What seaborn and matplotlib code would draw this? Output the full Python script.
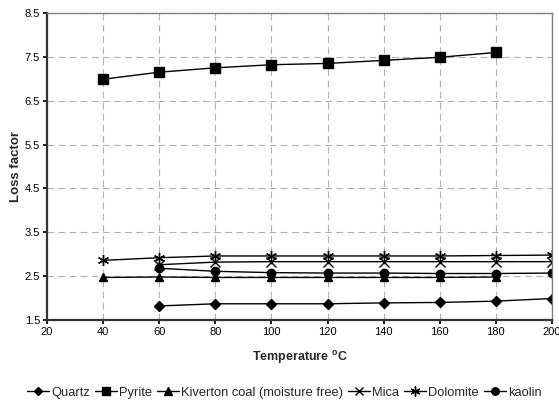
import numpy as np
import pandas as pd
import matplotlib
matplotlib.use("Agg")
import matplotlib.pyplot as plt
import seaborn as sns

# ── Data ────────────────────────────────────────────────────────────────────
temp_quartz = [60, 80, 100, 120, 140, 160, 180, 200]
quartz = [1.82, 1.87, 1.87, 1.87, 1.89, 1.90, 1.93, 1.99]

temp_pyrite = [40, 60, 80, 100, 120, 140, 160, 180]
pyrite = [6.99, 7.15, 7.25, 7.32, 7.35, 7.42, 7.49, 7.60]

temp_kiverton = [40, 60, 80, 100, 120, 140, 160, 180]
kiverton = [2.47, 2.48, 2.47, 2.47, 2.47, 2.47, 2.47, 2.48]

temp_mica = [60, 80, 100, 120, 140, 160, 180, 200]
mica = [2.76, 2.82, 2.83, 2.83, 2.83, 2.83, 2.83, 2.83]

temp_dolomite = [40, 60, 80, 100, 120, 140, 160, 180, 200]
dolomite = [2.86, 2.92, 2.96, 2.96, 2.96, 2.96, 2.96, 2.97, 2.98]

temp_kaolin = [60, 80, 100, 120, 140, 160, 180, 200]
kaolin = [2.68, 2.61, 2.58, 2.57, 2.57, 2.56, 2.56, 2.57]

SERIES = [
    ("Quartz", temp_quartz, quartz, "D", 5),
    ("Pyrite", temp_pyrite, pyrite, "s", 7),
    ("Kiverton coal (moisture free)", temp_kiverton, kiverton, "^", 6),
    ("Mica", temp_mica, mica, "x", 7),
    ("Dolomite", temp_dolomite, dolomite, (6, 2, 0), 8),
    ("kaolin", temp_kaolin, kaolin, "o", 6),
]

# ── Plot ────────────────────────────────────────────────────────────────────
sns.set_theme(style="white")
plt.rcParams["font.family"] = ["Liberation Sans", "DejaVu Sans"]

fig = plt.figure(figsize=(5.59, 4.01), dpi=100)
ax = fig.add_axes([0.084, 0.202, 0.9035, 0.7656])

for name, xs, ys, mk, ms in SERIES:
    df = pd.DataFrame({"Temperature": xs, "Loss": ys})
    sns.lineplot(data=df, x="Temperature", y="Loss", ax=ax, color="black",
                 marker=mk, markersize=ms, linewidth=1.0, label=name,
                 markeredgecolor="black", markerfacecolor="black",
                 markeredgewidth=1.0)

ax.set_xlim(20, 200)
ax.set_ylim(1.5, 8.5)
ax.set_xticks(np.arange(20, 201, 20))
ax.set_yticks(np.arange(1.5, 8.6, 1.0))
ax.set_yticklabels([f"{v:.1f}" for v in np.arange(1.5, 8.6, 1.0)])
ax.tick_params(axis="both", labelsize=8, length=3, direction="out",
               left=True, bottom=True, pad=2, colors="black")
ax.grid(True, color="#b0b0b0", linestyle=(0, (6, 4)), linewidth=0.8)

for side in ["top", "right"]:
    ax.spines[side].set_color("#808080")
    ax.spines[side].set_linewidth(1.0)
for side in ["left", "bottom"]:
    ax.spines[side].set_color("#333333")
    ax.spines[side].set_linewidth(1.6)

ax.set_xlabel("Temperature $^{\\mathregular{o}}$C", fontsize=9,
              fontweight="bold", labelpad=9)
ax.set_ylabel("Loss factor", fontsize=9.5, fontweight="bold", labelpad=2)

ax.legend(loc="upper center", bbox_to_anchor=(0.47, -0.2), ncol=6,
          frameon=False, fontsize=9.3, handlelength=1.7, handletextpad=0.15,
          columnspacing=0.4, borderaxespad=0, markerscale=0.9)

fig.savefig("out.png", dpi=100)
plt.close(fig)
